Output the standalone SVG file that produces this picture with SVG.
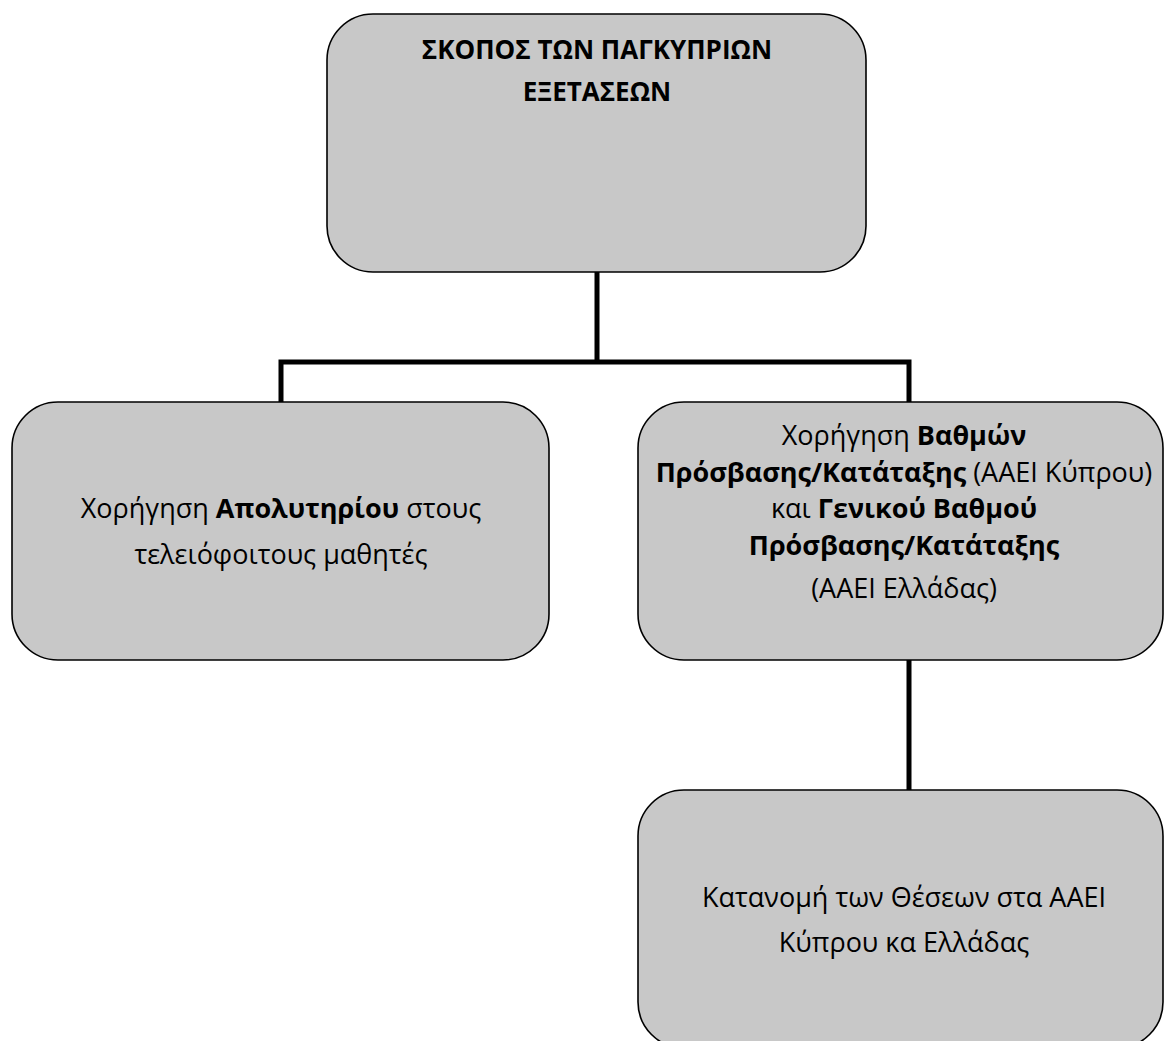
<svg xmlns="http://www.w3.org/2000/svg" width="1165" height="1041" viewBox="0 0 1165 1041">
<style>
.box{fill:#c8c8c8;stroke:#000;stroke-width:1.6}
.t{font-family:"Open Sans","Noto Sans",sans-serif;font-size:27px;fill:#000;text-anchor:middle}
.h{font-size:26px}
.b{font-weight:bold}
.conn{fill:none;stroke:#000;stroke-width:5}
</style>
<rect width="1165" height="1041" fill="#fff"/>
<g id="connectors">
<path class="conn" d="M597 272V362M281 402V362H909V402"/>
<path class="conn" d="M909 660V790"/>
</g>
<g id="top">
<rect class="box" x="327" y="14" width="539" height="258" rx="46"/>
<text class="t h b" x="597" y="59">ΣΚΟΠΟΣ ΤΩΝ ΠΑΓΚΥΠΡΙΩΝ</text>
<text class="t h b" x="597" y="101">ΕΞΕΤΑΣΕΩΝ</text>
</g>
<g id="left">
<rect class="box" x="12" y="402" width="537" height="258" rx="46"/>
<text class="t" x="281" y="518">Χορήγηση <tspan class="b">Απολυτηρίου</tspan> στους</text>
<text class="t" x="281" y="564">τελειόφοιτους μαθητές</text>
</g>
<g id="right">
<rect class="box" x="638" y="402" width="525" height="258" rx="46"/>
<text class="t" x="904" y="445">Χορήγηση <tspan class="b">Βαθμών</tspan></text>
<text class="t" x="904" y="482"><tspan class="b">Πρόσβασης/Κατάταξης</tspan> (ΑΑΕΙ Κύπρου)</text>
<text class="t" x="904" y="518">και <tspan class="b">Γενικού Βαθμού</tspan></text>
<text class="t b" x="904" y="555">Πρόσβασης/Κατάταξης</text>
<text class="t" x="904" y="598">(ΑΑΕΙ Ελλάδας)</text>
</g>
<g id="bottom">
<rect class="box" x="638" y="790" width="525" height="258" rx="46"/>
<text class="t" x="904" y="907">Κατανομή των Θέσεων στα ΑΑΕΙ</text>
<text class="t" x="904" y="952">Κύπρου κα Ελλάδας</text>
</g>
</svg>
